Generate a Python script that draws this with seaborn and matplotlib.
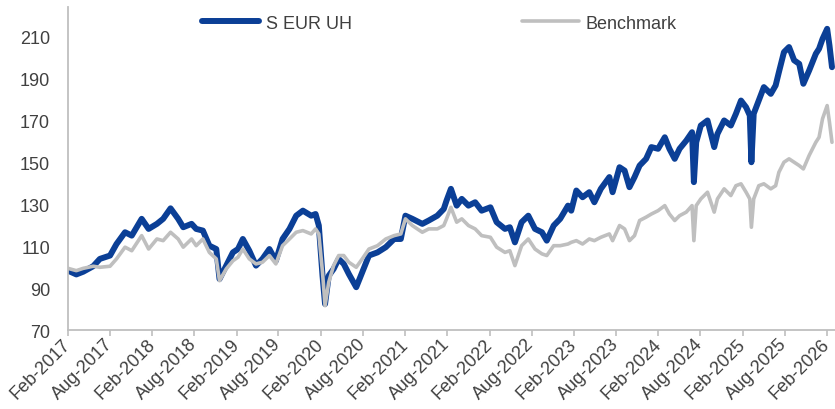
import matplotlib
matplotlib.use("Agg")
import pandas as pd
import seaborn as sns
import matplotlib.pyplot as plt

# ---------------- data ----------------
dates = [
    "2017-02-01", "2017-03-09", "2017-04-08", "2017-05-21", "2017-06-19", "2017-08-02",
    "2017-08-30", "2017-10-06", "2017-11-04", "2017-12-17", "2018-01-16", "2018-02-21",
    "2018-03-20", "2018-04-21", "2018-05-24", "2018-06-15", "2018-07-21", "2018-08-10",
    "2018-09-08", "2018-10-06", "2018-11-05", "2018-11-19", "2018-12-18", "2019-01-16",
    "2019-02-07", "2019-02-28", "2019-03-28", "2019-04-26", "2019-05-24", "2019-06-23",
    "2019-07-21", "2019-08-19", "2019-09-18", "2019-10-17", "2019-11-15", "2019-12-21",
    "2020-01-09", "2020-01-23", "2020-02-08", "2020-02-19", "2020-03-06", "2020-03-27",
    "2020-04-18", "2020-05-10", "2020-06-01", "2020-07-03", "2020-07-29", "2020-08-27",
    "2020-10-03", "2020-11-08", "2020-12-14", "2021-01-12", "2021-02-01", "2021-03-03",
    "2021-04-15", "2021-05-13", "2021-06-19", "2021-07-17", "2021-07-29", "2021-08-17",
    "2021-09-11", "2021-10-03", "2021-11-01", "2021-11-30", "2021-12-28", "2022-02-04",
    "2022-03-03", "2022-04-08", "2022-04-29", "2022-05-21", "2022-06-19", "2022-07-18",
    "2022-08-16", "2022-09-15", "2022-10-06", "2022-11-05", "2022-12-03", "2023-01-06",
    "2023-01-20", "2023-02-11", "2023-03-10", "2023-04-08", "2023-04-30", "2023-05-28",
    "2023-07-04", "2023-07-18", "2023-08-17", "2023-09-08", "2023-09-29", "2023-10-21",
    "2023-11-12", "2023-12-10", "2024-01-02", "2024-01-31", "2024-02-29", "2024-03-20",
    "2024-04-12", "2024-05-03", "2024-06-01", "2024-06-26", "2024-07-04", "2024-07-14",
    "2024-08-03", "2024-09-01", "2024-09-30", "2024-10-14", "2024-11-12", "2024-12-11",
    "2025-01-02", "2025-01-24", "2025-02-15", "2025-03-03", "2025-03-10", "2025-03-20",
    "2025-04-11", "2025-05-03", "2025-06-02", "2025-06-23", "2025-07-07", "2025-07-29",
    "2025-08-20", "2025-09-11", "2025-10-03", "2025-10-21", "2025-11-15", "2025-12-14",
    "2025-12-28", "2026-01-12", "2026-02-01", "2026-02-11", "2026-02-22",
]

s_eur_uh = [
    98.3, 96.5, 97.8, 100.4, 103.9, 105.5,
    111.0, 116.6, 115.0, 123.0, 118.2, 120.6,
    123.0, 128.0, 123.0, 119.0, 120.6, 118.2,
    117.4, 110.2, 108.6, 94.3, 100.7, 107.0,
    108.6, 113.4, 107.8, 100.7, 103.9, 108.6,
    103.0, 113.4, 118.2, 124.5, 126.9, 124.5,
    125.3, 119.8, 95.9, 82.4, 95.9, 99.1,
    103.9, 101.5, 96.7, 90.4, 97.5, 105.5,
    107.0, 109.5, 113.4, 113.4, 124.5, 123.0,
    120.6, 122.2, 124.5, 127.7, 131.7, 137.3,
    129.3, 132.5, 129.3, 130.9, 126.9, 128.5,
    121.4, 118.2, 119.0, 111.8, 121.4, 124.5,
    118.2, 116.6, 112.6, 119.8, 123.0, 129.3,
    126.9, 136.5, 133.3, 135.7, 130.9, 137.3,
    142.9, 135.7, 147.6, 146.0, 138.1, 142.9,
    148.4, 151.6, 157.2, 156.4, 161.9, 156.4,
    151.6, 156.4, 160.3, 164.3, 140.5, 159.5,
    167.5, 169.9, 157.2, 163.5, 169.9, 167.5,
    173.1, 179.4, 176.2, 172.3, 150.0, 173.1,
    179.4, 185.8, 182.6, 186.6, 192.9, 202.5,
    204.9, 198.6, 196.9, 187.4, 193.7, 201.7,
    204.1, 208.8, 213.6, 205.7, 195.3,
]

benchmark = [
    99.4, 98.3, 99.4, 100.4, 99.9, 100.4,
    103.9, 109.5, 107.8, 115.0, 108.6, 113.4,
    112.6, 116.6, 113.4, 109.5, 113.4, 110.2,
    113.4, 107.0, 103.9, 93.5, 99.1, 103.0,
    104.7, 108.6, 103.9, 101.5, 102.3, 105.5,
    101.5, 110.2, 113.4, 116.6, 117.4, 115.8,
    118.2, 115.8, 97.5, 81.6, 92.8, 100.7,
    105.5, 105.5, 102.3, 99.9, 103.9, 108.6,
    110.2, 113.4, 115.0, 115.8, 123.0, 119.8,
    116.6, 118.2, 118.2, 119.8, 123.0, 128.5,
    121.4, 123.0, 119.8, 118.2, 115.0, 114.2,
    109.5, 107.0, 107.8, 100.7, 110.2, 113.4,
    108.6, 106.3, 105.5, 110.2, 110.2, 111.0,
    111.8, 112.6, 111.0, 113.4, 112.6, 114.2,
    115.8, 112.6, 119.8, 118.2, 112.6, 115.0,
    122.2, 123.8, 125.3, 126.9, 129.3, 125.3,
    122.2, 124.5, 126.2, 129.3, 112.6, 129.3,
    132.5, 135.7, 126.2, 132.5, 137.3, 134.1,
    138.8, 139.7, 135.7, 132.5, 119.0, 132.5,
    138.8, 139.7, 137.3, 138.8, 145.2, 150.0,
    151.6, 150.0, 148.4, 146.8, 153.2, 159.5,
    161.9, 170.7, 177.0, 169.1, 159.5,
]

series_names = ["S EUR UH", "Benchmark"]
y_ticks = [70, 90, 110, 130, 150, 170, 190, 210]
tick_dates = pd.date_range("2017-02-01", "2026-02-01", freq="6MS")
tick_labels = [d.strftime("%b-%Y") for d in tick_dates]

# ---------------- plot ----------------
sns.set_style("white")
plt.rcParams["font.family"] = ["Liberation Sans", "DejaVu Sans"]

df = pd.DataFrame({
    "date": pd.to_datetime(dates),
    series_names[0]: s_eur_uh,
    series_names[1]: benchmark,
})

fig = plt.figure(figsize=(8.35, 4.1), dpi=100)
ax = fig.add_axes([68 / 835, 1 - 331 / 410, 1 - 68 / 835, (331 - 8) / 410])

sns.lineplot(data=df, x="date", y=series_names[0], ax=ax, color="#0B3F96",
             linewidth=4.3, label=series_names[0],
             solid_joinstyle="round", solid_capstyle="round")
sns.lineplot(data=df, x="date", y=series_names[1], ax=ax, color="#BFBFBF",
             linewidth=2.6, label=series_names[1],
             solid_joinstyle="round", solid_capstyle="round")

ax.set_xlim(pd.Timestamp("2017-02-01"), pd.Timestamp("2026-03-07"))
ax.set_ylim(70, 224)
ax.set_yticks(y_ticks)
ax.set_xticks(tick_dates)
ax.set_xticklabels(tick_labels, rotation=45, ha="right", va="center",
                   rotation_mode="anchor")
ax.set_xlabel("")
ax.set_ylabel("")

ax.tick_params(axis="x", length=4, width=1.2, color="#BFBFBF", pad=4,
               labelsize=13, labelcolor="#404040", direction="out", bottom=True)
ax.tick_params(axis="y", length=0, pad=13, labelsize=13, labelcolor="#404040")

for side in ("top", "right"):
    ax.spines[side].set_visible(False)
for side in ("left", "bottom"):
    ax.spines[side].set_color("#BFBFBF")
    ax.spines[side].set_linewidth(1.3)

leg = ax.legend(loc="center", bbox_to_anchor=(0.484, 0.95), ncol=2, frameon=False,
                fontsize=13, handlelength=3.2, handletextpad=0.35,
                columnspacing=9.4, labelcolor="#404040")

fig.savefig("out.png", dpi=100)
